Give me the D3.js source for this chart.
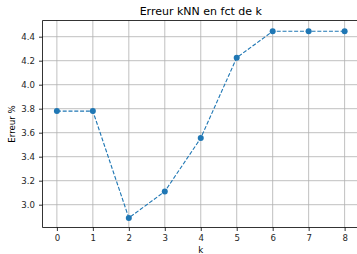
<!DOCTYPE html>
<html>
<head>
<meta charset="utf-8">
<script src="https://cdn.jsdelivr.net/npm/d3@7"></script>
<style>
  body { margin: 0; background: #fff; }
  svg { display: block; font-family: "DejaVu Sans", sans-serif; }
</style>
</head>
<body>
<svg id="chart" width="357" height="254"></svg>
<script>
"use strict";

var kValues = [0, 1, 2, 3, 4, 5, 6, 7, 8];
var errors = [3.78, 3.78, 2.89, 3.11, 3.555, 4.225, 4.445, 4.445, 4.445];
var yTicks = [3.0, 3.2, 3.4, 3.6, 3.8, 4.0, 4.2, 4.4];

var svg = d3.select("#chart");
var plotLeft = 42.5, plotTop = 20.5, plotBottom = 227.5, plotRight = 359;

var x = d3.scaleLinear().domain([-0.4, 8.4]).range([plotLeft, plotRight]);
var y = d3.scaleLinear().domain([2.81, 4.535]).range([plotBottom, plotTop]);

// grid
svg.append("g").selectAll("line").data(kValues).join("line")
    .attr("x1", function(d) { return x(d); })
    .attr("x2", function(d) { return x(d); })
    .attr("y1", plotTop).attr("y2", plotBottom)
    .attr("stroke", "#b0b0b0").attr("stroke-width", 0.8);
svg.append("g").selectAll("line").data(yTicks).join("line")
    .attr("y1", function(d) { return y(d); })
    .attr("y2", function(d) { return y(d); })
    .attr("x1", plotLeft).attr("x2", plotRight)
    .attr("stroke", "#b0b0b0").attr("stroke-width", 0.8);

// axes
var xAxis = svg.append("g")
    .attr("transform", "translate(0," + plotBottom + ")")
    .call(d3.axisBottom(x).tickValues(kValues).tickSize(3.5).tickPadding(3.5).tickSizeOuter(0));
var yAxis = svg.append("g")
    .attr("transform", "translate(" + plotLeft + ",0)")
    .call(d3.axisLeft(y).tickValues(yTicks).tickFormat(d3.format(".1f")).tickSize(3.5).tickPadding(4).tickSizeOuter(0));

[xAxis, yAxis].forEach(function(a) {
    a.select(".domain").remove();
    a.selectAll("text").attr("font-size", 8.6).attr("fill", "#262626")
        .attr("font-family", "DejaVu Sans");
    a.selectAll(".tick line").attr("stroke", "#000").attr("stroke-width", 0.8);
});

// spines
svg.append("line").attr("x1", plotLeft).attr("x2", plotLeft).attr("y1", plotTop).attr("y2", plotBottom)
    .attr("stroke", "#000").attr("stroke-width", 0.8);
svg.append("line").attr("x1", plotLeft).attr("x2", plotRight).attr("y1", plotBottom).attr("y2", plotBottom)
    .attr("stroke", "#000").attr("stroke-width", 0.8);
svg.append("line").attr("x1", plotLeft).attr("x2", plotRight).attr("y1", plotTop).attr("y2", plotTop)
    .attr("stroke", "#000").attr("stroke-width", 0.8);

// series
var line = d3.line()
    .x(function(d, i) { return x(kValues[i]); })
    .y(function(d) { return y(d); });
svg.append("path").datum(errors)
    .attr("d", line)
    .attr("fill", "none")
    .attr("stroke", "#1f77b4")
    .attr("stroke-width", 1.1)
    .attr("stroke-dasharray", "4,1.8");
svg.append("g").selectAll("circle").data(errors).join("circle")
    .attr("cx", function(d, i) { return x(kValues[i]); })
    .attr("cy", function(d) { return y(d); })
    .attr("r", 3)
    .attr("fill", "#1f77b4");

// labels
svg.append("text").attr("x", (plotLeft + plotRight) / 2).attr("y", 15)
    .attr("text-anchor", "middle").attr("font-size", 11).attr("fill", "#000")
    .text("Erreur kNN en fct de k");
svg.append("text").attr("x", x(4)).attr("y", 253)
    .attr("text-anchor", "middle").attr("font-size", 8.6).attr("fill", "#000")
    .text("k");
svg.append("text")
    .attr("transform", "translate(15," + ((plotTop + plotBottom) / 2) + ") rotate(-90)")
    .attr("text-anchor", "middle").attr("font-size", 8.6).attr("fill", "#000")
    .text("Erreur %");
</script>
</body>
</html>
